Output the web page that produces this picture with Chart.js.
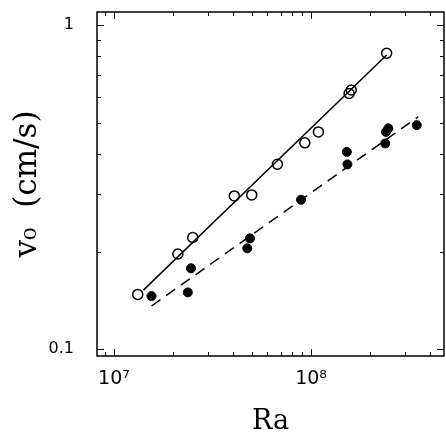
<!DOCTYPE html>
<html>
<head>
<meta charset="utf-8">
<script src="https://cdn.jsdelivr.net/npm/chart.js@4.4.1/dist/chart.umd.min.js"></script>
<style>
    html, body { margin: 0; padding: 0; background: #fff; }
    canvas { display: block; }
</style>
</head>
<body>
<canvas id="velocityChart" width="446" height="435"></canvas>
<script>
// Pontos abertos (círculos vazios)
const openRa = [1.32e7, 2.11e7, 2.51e7, 4.08e7, 5.0e7, 6.75e7, 9.3e7, 1.09e8, 1.56e8, 1.6e8, 2.42e8];
const openV = [0.1475, 0.1965, 0.221, 0.297, 0.299, 0.372, 0.433, 0.468, 0.615, 0.63, 0.818];

// Pontos cheios
const filledRa = [1.55e7, 2.37e7, 2.46e7, 4.75e7, 4.9e7, 8.9e7, 1.53e8, 1.52e8, 2.38e8, 2.4e8, 2.47e8, 3.44e8];
const filledV = [0.1457, 0.1496, 0.1775, 0.2046, 0.2196, 0.289, 0.3715, 0.406, 0.431, 0.468, 0.48, 0.491];

// Retas de ajuste (extremidades)
const solidFitRa = [1.41e7, 2.42e8];
const solidFitV = [0.152, 0.808];
const dashedFitRa = [1.55e7, 3.5e8];
const dashedFitV = [0.1358, 0.521];

// Marcas dos eixos
const xMajorTicks = [1e7, 1e8];
const xTickLabels = ['10\u2077', '10\u2078'];
const xMinorTicks = [9e6, 2e7, 3e7, 4e7, 5e7, 6e7, 7e7, 8e7, 9e7, 2e8, 3e8, 4e8];
const yMajorTicks = [0.1, 1];
const yTickLabels = ['0.1', '1'];
const yMinorTicks = [0.2, 0.3, 0.4, 0.5, 0.6, 0.7, 0.8, 0.9];

function toPoints(xs, ys) {
    return xs.map((x, i) => ({ x: x, y: ys[i] }));
}

/**
 * Desenha a moldura e as marcas internas nos quatro lados
 */
const frameTicksPlugin = {
    id: 'frameTicks',
    afterDraw(chart) {
        const { ctx, chartArea: a, scales: { x, y } } = chart;
        ctx.save();
        ctx.strokeStyle = '#000';
        ctx.lineWidth = 1.5;
        ctx.strokeRect(a.left, a.top, a.right - a.left, a.bottom - a.top);

        ctx.lineWidth = 1;
        const drawX = (vals, len) => {
            vals.forEach(v => {
                const px = Math.round(x.getPixelForValue(v)) + 0.5;
                if (px < a.left || px > a.right) return;
                ctx.beginPath();
                ctx.moveTo(px, a.bottom); ctx.lineTo(px, a.bottom - len);
                ctx.moveTo(px, a.top); ctx.lineTo(px, a.top + len);
                ctx.stroke();
            });
        };
        const drawY = (vals, len) => {
            vals.forEach(v => {
                const py = Math.round(y.getPixelForValue(v)) + 0.5;
                if (py < a.top || py > a.bottom) return;
                ctx.beginPath();
                ctx.moveTo(a.left, py); ctx.lineTo(a.left + len, py);
                ctx.moveTo(a.right, py); ctx.lineTo(a.right - len, py);
                ctx.stroke();
            });
        };
        drawX(xMajorTicks, 7);
        drawX(xMinorTicks, 4);
        drawY(yMajorTicks, 7);
        drawY(yMinorTicks, 4);
        ctx.restore();
    }
};

new Chart(document.getElementById('velocityChart'), {
    type: 'scatter',
    data: {
        datasets: [{
            data: toPoints(openRa, openV),
            pointStyle: 'circle',
            pointRadius: 5,
            pointBorderWidth: 1.5,
            pointBorderColor: '#000',
            pointBackgroundColor: 'rgba(0,0,0,0)'
        }, {
            data: toPoints(filledRa, filledV),
            pointStyle: 'circle',
            pointRadius: 4.5,
            pointBorderWidth: 1,
            pointBorderColor: '#000',
            pointBackgroundColor: '#000'
        }, {
            data: toPoints(solidFitRa, solidFitV),
            showLine: true,
            pointRadius: 0,
            borderColor: '#000',
            borderWidth: 1.5
        }, {
            data: toPoints(dashedFitRa, dashedFitV),
            showLine: true,
            pointRadius: 0,
            borderColor: '#000',
            borderWidth: 1.5,
            borderDash: [11, 7]
        }]
    },
    options: {
        responsive: false,
        animation: false,
        layout: {
            autoPadding: false,
            padding: { left: 0, right: 2, top: 12, bottom: 0 }
        },
        scales: {
            x: {
                type: 'logarithmic',
                min: 8.2e6,
                max: 4.73e8,
                afterFit: function (scale) {
                    scale.height = 79;
                    scale.paddingLeft = 0;
                    scale.paddingRight = 0;
                },
                afterBuildTicks: function (scale) {
                    scale.ticks = xMajorTicks.map(v => ({ value: v }));
                },
                grid: { display: false },
                border: { display: false },
                ticks: {
                    color: '#000',
                    padding: 4,
                    maxRotation: 0,
                    font: { family: 'DejaVu Sans', size: 19 },
                    callback: function (value) {
                        const i = xMajorTicks.indexOf(value);
                        return i >= 0 ? xTickLabels[i] : '';
                    }
                },
                title: {
                    display: true,
                    text: 'Ra',
                    color: '#000',
                    padding: { top: 0, bottom: 0 },
                    font: { family: 'DejaVu Serif', size: 27, lineHeight: 1 }
                }
            },
            y: {
                type: 'logarithmic',
                min: 0.0952,
                max: 1.097,
                afterFit: function (scale) {
                    scale.width = 97;
                    scale.paddingTop = 0;
                    scale.paddingBottom = 0;
                },
                afterBuildTicks: function (scale) {
                    scale.ticks = yMajorTicks.map(v => ({ value: v }));
                },
                grid: { display: false },
                border: { display: false },
                ticks: {
                    color: '#000',
                    padding: 15,
                    font: { family: 'DejaVu Sans', size: 16 },
                    callback: function (value) {
                        const i = yMajorTicks.indexOf(value);
                        return i >= 0 ? yTickLabels[i] : '';
                    }
                },
                title: {
                    display: true,
                    text: 'v\u2080  (cm/s)',
                    color: '#000',
                    padding: { top: 12, bottom: 0 },
                    font: { family: 'DejaVu Serif', size: 31, lineHeight: 1 }
                }
            }
        },
        plugins: {
            legend: { display: false },
            tooltip: { enabled: false }
        }
    },
    plugins: [frameTicksPlugin]
});
</script>
</body>
</html>
